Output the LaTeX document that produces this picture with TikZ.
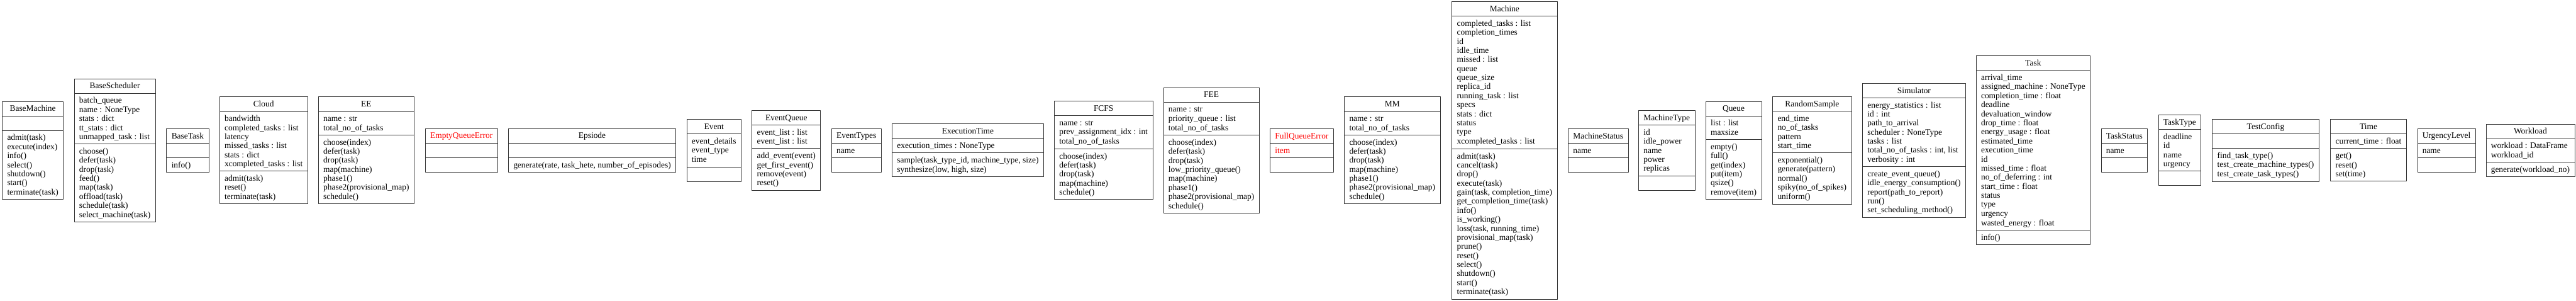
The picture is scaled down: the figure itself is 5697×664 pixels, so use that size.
\documentclass[tikz,border=0pt]{standalone}
\usepackage{fontspec}
\setmainfont{Liberation Serif}
\usetikzlibrary{shapes.multipart}
\newcommand{\ustrut}{\rule[-4bp]{0pt}{20bp}}
\tikzset{umlclass/.style={draw=black!80,line width=1bp,rectangle split,rectangle split parts=3,
  rectangle split part align={center,left,left},align=left,inner xsep=11bp,inner ysep=5.5bp,outer sep=0pt,
  font=\fontsize{18.67bp}{20bp}\selectfont}}
\begin{document}
\begin{tikzpicture}[line join=bevel,]
%%
\useasboundingbox (0bp,0bp) rectangle (5697bp,664bp);
  \node (BaseMachine) at (72.5bp,332bp) [umlclass] {\ustrut BaseMachine\ustrut
    \nodepart{two}\ustrut\ustrut
    \nodepart{three}\ustrut admit(task)\\execute(index)\\info()\\select()\\shutdown()\\start()\\terminate(task)\ustrut};
  \node (BaseScheduler) at (254bp,332bp) [umlclass] {\ustrut BaseScheduler\ustrut
    \nodepart{two}\ustrut batch\_queue\\name : NoneType\\stats : dict\\tt\_stats : dict\\unmapped\_task : list\ustrut
    \nodepart{three}\ustrut choose()\\defer(task)\\drop(task)\\feed()\\map(task)\\offload(task)\\schedule(task)\\select\_machine(task)\ustrut};
  \node (BaseTask) at (415bp,332bp) [umlclass] {\ustrut BaseTask\ustrut
    \nodepart{two}\ustrut\ustrut
    \nodepart{three}\ustrut info()\ustrut};
  \node (Cloud) at (583bp,332bp) [umlclass] {\ustrut Cloud\ustrut
    \nodepart{two}\ustrut bandwidth\\completed\_tasks : list\\latency\\missed\_tasks : list\\stats : dict\\xcompleted\_tasks : list\ustrut
    \nodepart{three}\ustrut admit(task)\\reset()\\terminate(task)\ustrut};
  \node (EE) at (810bp,332bp) [umlclass] {\ustrut EE\ustrut
    \nodepart{two}\ustrut name : str\\total\_no\_of\_tasks\ustrut
    \nodepart{three}\ustrut choose(index)\\defer(task)\\drop(task)\\map(machine)\\phase1()\\phase2(provisional\_map)\\schedule()\ustrut};
  \node (EmptyQueueError) at (1020.5bp,332bp) [umlclass] {\ustrut\color{red}EmptyQueueError\ustrut
    \nodepart{two}\ustrut\ustrut
    \nodepart{three}\ustrut\ustrut};
  \node (Epsiode) at (1309.5bp,332bp) [umlclass] {\ustrut Epsiode\ustrut
    \nodepart{two}\ustrut\ustrut
    \nodepart{three}\ustrut generate(rate, task\_hete, number\_of\_episodes)\ustrut};
  \node (Event) at (1579bp,332bp) [umlclass] {\ustrut Event\ustrut
    \nodepart{two}\ustrut event\_details\\event\_type\\time\ustrut
    \nodepart{three}\ustrut\ustrut};
  \node (EventQueue) at (1739bp,332bp) [umlclass] {\ustrut EventQueue\ustrut
    \nodepart{two}\ustrut event\_list : list\\event\_list : list\ustrut
    \nodepart{three}\ustrut add\_event(event)\\get\_first\_event()\\remove(event)\\reset()\ustrut};
  \node (EventTypes) at (1894bp,332bp) [umlclass] {\ustrut EventTypes\ustrut
    \nodepart{two}\ustrut name\ustrut
    \nodepart{three}\ustrut\ustrut};
  \node (ExecutionTime) at (2140.5bp,332bp) [umlclass] {\ustrut ExecutionTime\ustrut
    \nodepart{two}\ustrut execution\_times : NoneType\ustrut
    \nodepart{three}\ustrut sample(task\_type\_id, machine\_type, size)\\synthesize(low, high, size)\ustrut};
  \node (FCFS) at (2440.5bp,332bp) [umlclass] {\ustrut FCFS\ustrut
    \nodepart{two}\ustrut name : str\\prev\_assignment\_idx : int\\total\_no\_of\_tasks\ustrut
    \nodepart{three}\ustrut choose(index)\\defer(task)\\drop(task)\\map(machine)\\schedule()\ustrut};
  \node (FEE) at (2679bp,332bp) [umlclass] {\ustrut FEE\ustrut
    \nodepart{two}\ustrut name : str\\priority\_queue : list\\total\_no\_of\_tasks\ustrut
    \nodepart{three}\ustrut choose(index)\\defer(task)\\drop(task)\\low\_priority\_queue()\\map(machine)\\phase1()\\phase2(provisional\_map)\\schedule()\ustrut};
  \node (FullQueueError) at (2879bp,332bp) [umlclass] {\ustrut\color{red}FullQueueError\ustrut
    \nodepart{two}\ustrut\color{red}item\ustrut
    \nodepart{three}\ustrut\ustrut};
  \node (MM) at (3079bp,332bp) [umlclass] {\ustrut MM\ustrut
    \nodepart{two}\ustrut name : str\\total\_no\_of\_tasks\ustrut
    \nodepart{three}\ustrut choose(index)\\defer(task)\\drop(task)\\map(machine)\\phase1()\\phase2(provisional\_map)\\schedule()\ustrut};
  \node (Machine) at (3327.5bp,332bp) [umlclass] {\ustrut Machine\ustrut
    \nodepart{two}\ustrut completed\_tasks : list\\completion\_times\\id\\idle\_time\\missed : list\\queue\\queue\_size\\replica\_id\\running\_task : list\\specs\\stats : dict\\status\\type\\xcompleted\_tasks : list\ustrut
    \nodepart{three}\ustrut admit(task)\\cancel(task)\\drop()\\execute(task)\\gain(task, completion\_time)\\get\_completion\_time(task)\\info()\\is\_working()\\loss(task, running\_time)\\provisional\_map(task)\\prune()\\reset()\\select()\\shutdown()\\start()\\terminate(task)\ustrut};
  \node (MachineStatus) at (3534.5bp,332bp) [umlclass] {\ustrut MachineStatus\ustrut
    \nodepart{two}\ustrut name\ustrut
    \nodepart{three}\ustrut\ustrut};
  \node (MachineType) at (3686bp,332bp) [umlclass] {\ustrut MachineType\ustrut
    \nodepart{two}\ustrut id\\idle\_power\\name\\power\\replicas\ustrut
    \nodepart{three}\ustrut\ustrut};
  \node (Queue) at (3834bp,332bp) [umlclass] {\ustrut Queue\ustrut
    \nodepart{two}\ustrut list : list\\maxsize\ustrut
    \nodepart{three}\ustrut empty()\\full()\\get(index)\\put(item)\\qsize()\\remove(item)\ustrut};
  \node (RandomSample) at (4007.5bp,332bp) [umlclass] {\ustrut RandomSample\ustrut
    \nodepart{two}\ustrut end\_time\\no\_of\_tasks\\pattern\\start\_time\ustrut
    \nodepart{three}\ustrut exponential()\\generate(pattern)\\normal()\\spiky(no\_of\_spikes)\\uniform()\ustrut};
  \node (Simulator) at (4233bp,332bp) [umlclass] {\ustrut Simulator\ustrut
    \nodepart{two}\ustrut energy\_statistics : list\\id : int\\path\_to\_arrival\\scheduler : NoneType\\tasks : list\\total\_no\_of\_tasks : int, list\\verbosity : int\ustrut
    \nodepart{three}\ustrut create\_event\_queue()\\idle\_energy\_consumption()\\report(path\_to\_report)\\run()\\set\_scheduling\_method()\ustrut};
  \node (Task) at (4496.5bp,332bp) [umlclass] {\ustrut Task\ustrut
    \nodepart{two}\ustrut arrival\_time\\assigned\_machine : NoneType\\completion\_time : float\\deadline\\devaluation\_window\\drop\_time : float\\energy\_usage : float\\estimated\_time\\execution\_time\\id\\missed\_time : float\\no\_of\_deferring : int\\start\_time : float\\status\\type\\urgency\\wasted\_energy : float\ustrut
    \nodepart{three}\ustrut info()\ustrut};
  \node (TaskStatus) at (4698bp,332bp) [umlclass] {\ustrut TaskStatus\ustrut
    \nodepart{two}\ustrut name\ustrut
    \nodepart{three}\ustrut\ustrut};
  \node (TaskType) at (4820.5bp,332bp) [umlclass] {\ustrut TaskType\ustrut
    \nodepart{two}\ustrut deadline\\id\\name\\urgency\ustrut
    \nodepart{three}\ustrut\ustrut};
  \node (TestConfig) at (5010.5bp,332bp) [umlclass] {\ustrut TestConfig\ustrut
    \nodepart{two}\ustrut\ustrut
    \nodepart{three}\ustrut find\_task\_type()\\test\_create\_machine\_types()\\test\_create\_task\_types()\ustrut};
  \node (Time) at (5238bp,332bp) [umlclass] {\ustrut Time\ustrut
    \nodepart{two}\ustrut current\_time : float\ustrut
    \nodepart{three}\ustrut get()\\reset()\\set(time)\ustrut};
  \node (UrgencyLevel) at (5410.5bp,332bp) [umlclass] {\ustrut UrgencyLevel\ustrut
    \nodepart{two}\ustrut name\ustrut
    \nodepart{three}\ustrut\ustrut};
  \node (Workload) at (5596bp,332bp) [umlclass] {\ustrut Workload\ustrut
    \nodepart{two}\ustrut workload : DataFrame\\workload\_id\ustrut
    \nodepart{three}\ustrut generate(workload\_no)\ustrut};
%
\end{tikzpicture}
\end{document}
